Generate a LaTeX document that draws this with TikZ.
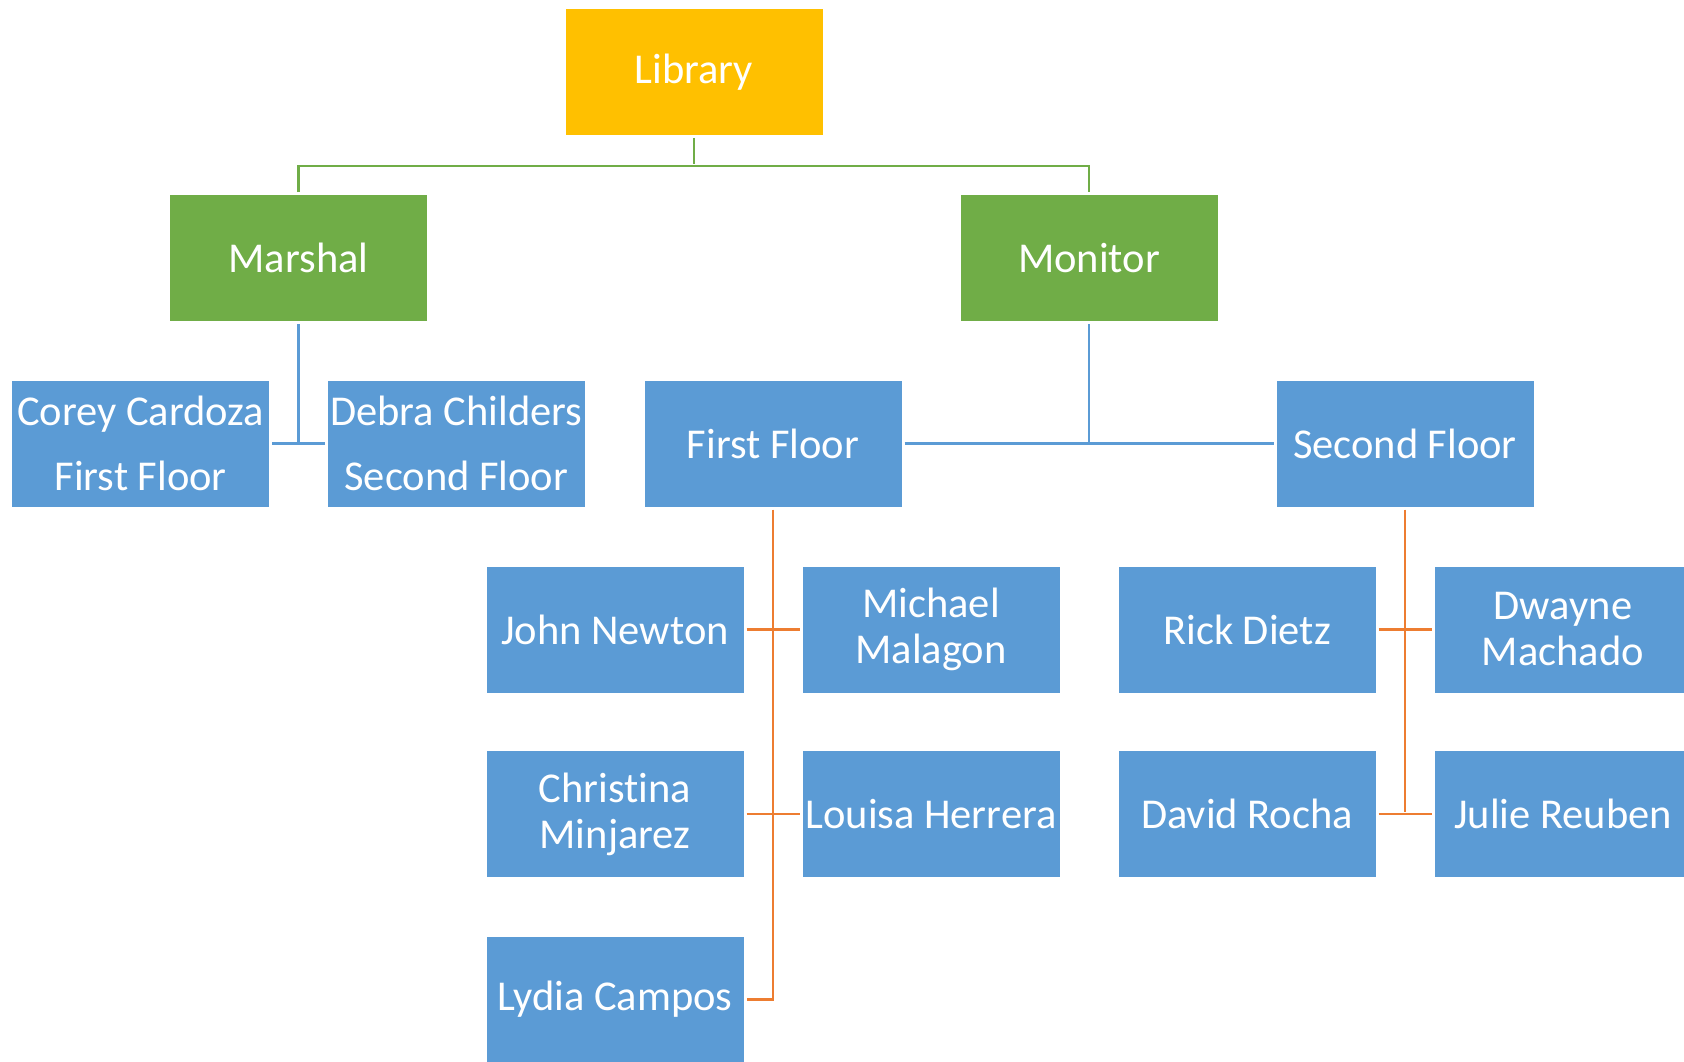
\documentclass[tikz,border=0pt]{standalone}
\usepackage{fontspec}
\setmainfont[RawFeature={-liga;-clig;-calt;-dlig}]{Carlito}
\definecolor{libc}{HTML}{FFC000}
\definecolor{grc}{HTML}{70AD47}
\definecolor{blc}{HTML}{5B9BD5}
\definecolor{orc}{HTML}{ED7D31}
\tikzset{
  box/.style={rectangle, draw=white, line width=1pt, minimum width=258pt, minimum height=127pt,
    inner sep=0pt, text=white, align=center, font=\fontsize{42.5}{46}\selectfont},
  libbox/.style={box, fill=libc},
  grbox/.style={box, fill=grc},
  blbox/.style={box, fill=blc},
  conn/.style={line width=2.6pt, line join=miter, shorten <=2pt, shorten >=2pt},
  gline/.style={conn, draw=grc},
  bline/.style={conn, draw=blc},
  oline/.style={conn, draw=orc}
}
\begin{document}
\begin{tikzpicture}[x=1pt,y=-1pt]
\useasboundingbox (0,0) rectangle (1684,1062);
% nodes
\node[libbox] (lib) at (694,72) {Library};
\node[grbox] (marshal) at (298.5,258) {Marshal};
\node[grbox] (monitor) at (1089,258) {Monitor};
\node[blbox] (corey) at (140.7,443.5) {Corey Cardoza\\[19pt]First Floor};
\node[blbox] (debra) at (456.3,443.5) {Debra Childers\\[19pt]Second Floor};
\node[blbox] (ff) at (773,443.5) {First Floor};
\node[blbox] (sf) at (1405,443.5) {Second Floor};
\node[blbox] (john) at (615,629.5) {John Newton};
\node[blbox] (michael) at (931,629.5) {Michael\\Malagon};
\node[blbox] (rick) at (1247,629.5) {Rick Dietz};
\node[blbox] (dwayne) at (1563,629.5) {Dwayne\\Machado};
\node[blbox] (christina) at (615,814) {Christina\\Minjarez};
\node[blbox] (louisa) at (931,814) {Louisa Herrera};
\node[blbox] (david) at (1247,814) {David Rocha};
\node[blbox] (julie) at (1563,814) {Julie Reuben};
\node[blbox] (lydia) at (615,999.5) {Lydia Campos};
% connectors
\coordinate (gj) at (694,166);
\draw[gline] (lib.south) -- (gj);
\draw[gline] (marshal.north) |- (gj) -| (monitor.north);
\draw[bline] (marshal.south) -- (marshal.south |- corey.east);
\draw[bline] (corey.east) -- (debra.west);
\draw[bline] (monitor.south) -- (monitor.south |- ff.east);
\draw[bline] (ff.east) -- (sf.west);
\draw[oline] (ff.south) |- (lydia.east);
\draw[oline] (john.east) -- (michael.west);
\draw[oline] (christina.east) -- (louisa.west);
\draw[oline] (sf.south) -- (sf.south |- david.east);
\draw[oline] (rick.east) -- (dwayne.west);
\draw[oline] (david.east) -- (julie.west);
\end{tikzpicture}
\end{document}
